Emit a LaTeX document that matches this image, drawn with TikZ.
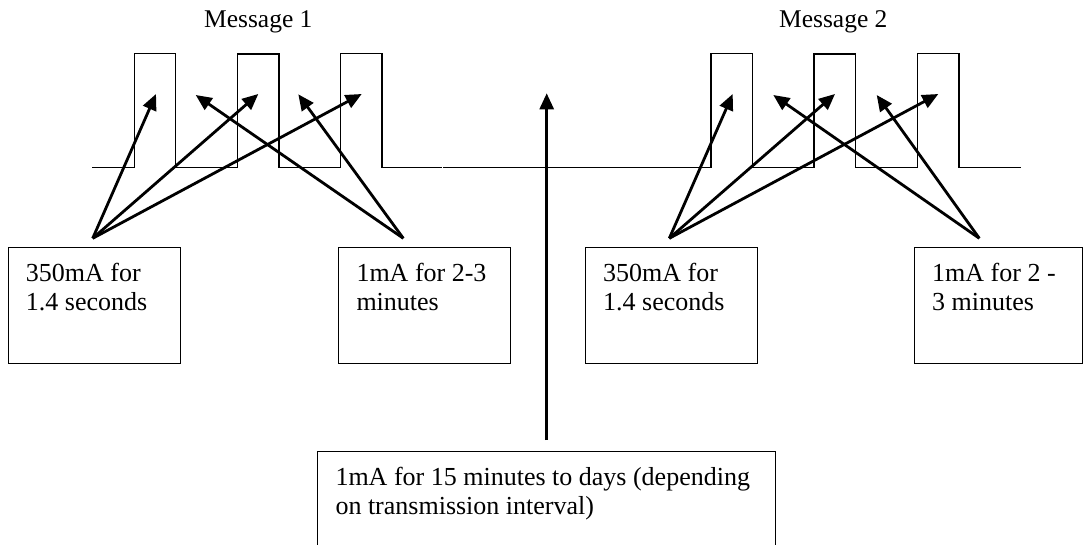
\documentclass[tikz,border=0pt]{standalone}
\usepackage{fontspec}
\setmainfont{Liberation Serif}
\usetikzlibrary{arrows.meta,calc}
\tikzset{
  boxnode/.style={draw, line width=1pt, inner sep=0pt, anchor=north west, minimum width=172pt, minimum height=116pt},
  txt/.style={anchor=base west, align=left, inner sep=0pt, font=\fontsize{26pt}{29pt}\selectfont},
  title/.style={anchor=base, inner sep=0pt, font=\fontsize{25.5pt}{29pt}\selectfont},
  wave/.style={line width=1.3pt},
  arr/.style={line width=2.8pt, -{Triangle[length=16pt,width=14pt]}}
}
\begin{document}
\begin{tikzpicture}[x=1pt,y=-1pt]
\useasboundingbox (0,0) rectangle (1083,544);
\clip (0,0) rectangle (1083,544);
% titles
\node[title] (m1) at (258.3,27) {Message 1};
\node[title] (m2) at (833.3,27) {Message 2};
% waveforms
\draw[wave] (92,167.7) -- (134.3,167.7) -- (134.3,53.3) -- (175.7,53.3) -- (175.7,167.7)
  -- (237.3,167.7) -- (237.3,54) -- (279,54) -- (279,167.7)
  -- (340.7,167.7) -- (340.7,53.3) -- (382,53.3) -- (382,167.7) -- (441.7,167.7);
\draw[wave] (443,167.3) -- (670,167.3);
\draw[wave] (669,167.7) -- (711,167.7) -- (711,53.3) -- (752.3,53.3) -- (752.3,167.7)
  -- (814,167.7) -- (814,54) -- (855.7,54) -- (855.7,167.7)
  -- (917.7,167.7) -- (917.7,53.3) -- (959,53.3) -- (959,167.7) -- (1021,167.7);
% boxes
\node[boxnode] (b1) at (7.7,246.7) {};
\node[boxnode] (b2) at (338.3,246.7) {};
\node[boxnode] (b3) at (585,246.7) {};
\node[boxnode, minimum width=168pt] (b4) at (914,246.7) {};
\node[boxnode, minimum width=457.7pt, minimum height=110pt] (b5) at (317.3,450.7) {};
\node[txt] (t1) at ($(b1.north west)+(18,64)$) {350mA for\\1.4 seconds};
\node[txt] (t2) at ($(b2.north west)+(18,64)$) {1mA for 2-3\\minutes};
\node[txt] (t3) at ($(b3.north west)+(18,64)$) {350mA for\\1.4 seconds};
\node[txt] (t4) at ($(b4.north west)+(18,64)$) {1mA for 2 -\\3 minutes};
\node[txt] (t5) at ($(b5.north west)+(18,64)$) {1mA for 15 minutes to days (depending\\on transmission interval)};
% arrow coordinates
\coordinate (s1) at (92.7,238.3);
\coordinate (s2) at (403.3,238.3);
\coordinate (s3) at (669.3,238.3);
\coordinate (s4) at (979.3,238.3);
\coordinate (s5) at (546.7,440);
\coordinate (p1) at (156,94);
\coordinate (p2) at (195.7,95);
\coordinate (p3) at (258.3,94);
\coordinate (p4) at (298.3,94.3);
\coordinate (p5) at (361.7,94);
\coordinate (q1) at (732.7,94);
\coordinate (q2) at (773.3,95);
\coordinate (q3) at (835,94);
\coordinate (q4) at (876.7,95);
\coordinate (q5) at (938.3,94);
\coordinate (mid) at (546.7,93.3);
% arrows
\draw[arr] (s1) -- (p1);
\draw[arr] (s1) -- (p3);
\draw[arr] (s1) -- (p5);
\draw[arr] (s2) -- (p2);
\draw[arr] (s2) -- (p4);
\draw[arr] (s3) -- (q1);
\draw[arr] (s3) -- (q3);
\draw[arr] (s3) -- (q5);
\draw[arr] (s4) -- (q2);
\draw[arr] (s4) -- (q4);
\draw[arr] (s5) -- (mid);
\end{tikzpicture}
\end{document}
